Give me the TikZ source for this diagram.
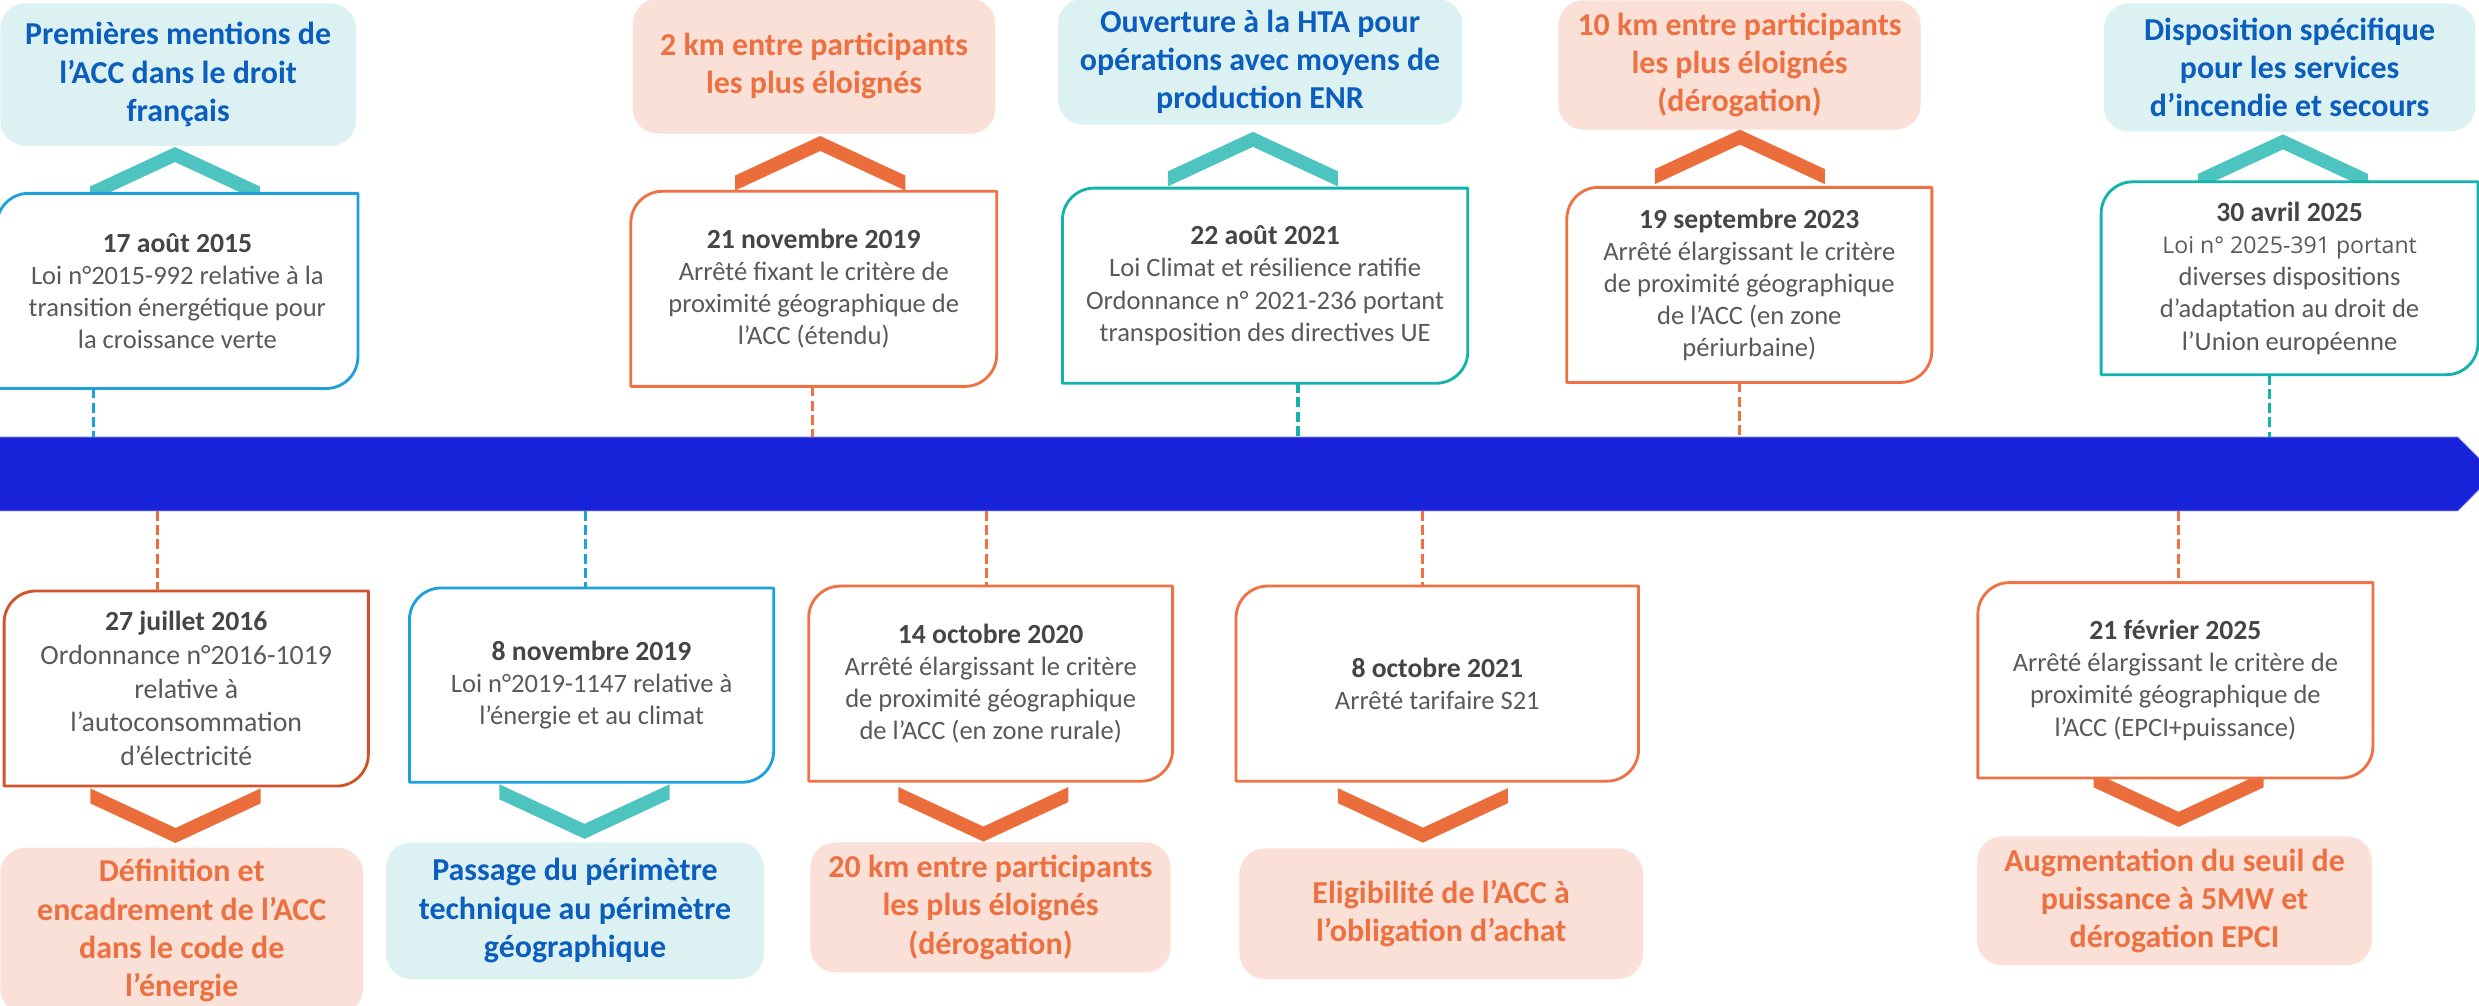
\documentclass[tikz,border=0pt]{standalone}
\usepackage{fontspec}
\setmainfont{Carlito}
\newfontfamily\segoefam[Ligatures=TeXOff]{Open Sans}
\definecolor{barblue}{HTML}{1722D9}
\definecolor{baredge}{HTML}{9FA4EE}
\definecolor{cyanfill}{HTML}{DBF1F2}
\definecolor{salmonfill}{HTML}{FBE0D7}
\definecolor{txtblue}{HTML}{0B5EBE}
\definecolor{txtorange}{HTML}{ED7040}
\definecolor{chevteal}{HTML}{4DC4C0}
\definecolor{chevorange}{HTML}{EC6D3C}
\definecolor{bdblue}{HTML}{1DA1DE}
\definecolor{bdteal}{HTML}{12B3AB}
\definecolor{bdorange}{HTML}{EE7244}
\definecolor{bddark}{HTML}{D0542A}
\definecolor{bodygray}{HTML}{595959}
\definecolor{headgray}{HTML}{454545}
\newcommand{\dhead}[1]{\textcolor{headgray}{\bfseries\fontsize{17.5}{20.3}\selectfont #1}}
\newcommand{\dshape}[2]{\draw[line width=1.8pt, draw=#2, line join=round] ([yshift=-20pt]#1.north west) .. controls ([yshift=-9pt]#1.north west) and ([xshift=9pt]#1.north west) .. ([xshift=20pt]#1.north west) -- (#1.north east) -- ([yshift=20pt]#1.south east) .. controls ([yshift=9pt]#1.south east) and ([xshift=-9pt]#1.south east) .. ([xshift=-20pt]#1.south east) -- (#1.south west) -- cycle;}
\newcommand{\chevup}[3]{\fill[#3] ({#1-53.8},{#2+25}) -- (#1,#2) -- ({#1+53.8},{#2+25}) -- ({#1+53.8},{#2+34.5}) -- (#1,{#2+9.5}) -- ({#1-53.8},{#2+34.5}) -- cycle;}
\newcommand{\chevdown}[3]{\fill[#3] ({#1-53.8},{#2-25}) -- (#1,#2) -- ({#1+53.8},{#2-25}) -- ({#1+53.8},{#2-34.5}) -- (#1,{#2-9.5}) -- ({#1-53.8},{#2-34.5}) -- cycle;}
\tikzset{
  summ/.style={anchor=north west, inner sep=0pt, rounded corners=16pt, align=center, font=\bfseries\fontsize{20.2}{24.2}\selectfont},
  sumc/.style={summ, fill=cyanfill, text=txtblue},
  sumo/.style={summ, fill=salmonfill, text=txtorange},
  dbox/.style={anchor=north west, inner sep=0pt, fill=white, align=center, text=bodygray, font=\fontsize{16.8}{20.3}\selectfont},
  conn/.style={line width=2pt, dash pattern=on 6.3pt off 2.7pt},
}
\begin{document}
\begin{tikzpicture}[x=1pt,y=-1pt]
\useasboundingbox (0,0) rectangle (1568,636);
\clip (0,0) rectangle (1568,636);
% timeline bar
\fill[barblue, draw=baredge, line width=0.6pt] (-2,276.4) -- (1554.7,276.4) -- (1578,299.8) -- (1554.7,323.2) -- (-2,323.2) -- cycle;
\coordinate (bartop) at (0,276.4);
\coordinate (barbot) at (0,323.2);
% chevrons
\chevup{110.7}{93}{chevteal}
\chevup{518.8}{86}{chevorange}
\chevup{792.5}{83.4}{chevteal}
\chevup{1100.5}{82}{chevorange}
\chevup{1444}{85}{chevteal}
\chevdown{111}{533.2}{chevorange}
\chevdown{369.7}{530.6}{chevteal}
\chevdown{622}{532.3}{chevorange}
\chevdown{900}{533}{chevorange}
\chevdown{1378}{523}{chevorange}
% top summaries
\node[sumc, minimum width=225pt, minimum height=90pt] (s1) at (0,2) {Premières mentions de\\l’ACC dans le droit\\français};
\node[sumo, minimum width=229.4pt, minimum height=85.3pt] (s2) at (400,-1) {2 km entre participants\\les plus éloignés};
\node[sumc, minimum width=255.6pt, minimum height=79.7pt] (s3) at (669,-1) {Ouverture à la HTA pour\\opérations avec moyens de\\production ENR};
\node[sumo, minimum width=229.2pt, minimum height=81.8pt] (s4) at (985.5,0) {10 km entre participants\\les plus éloignés\\(dérogation)};
\node[sumc, minimum width=235pt, minimum height=81pt] (s5) at (1330.5,2) {Disposition spécifique\\pour les services\\d’incendie et secours};
% top date boxes
\node[dbox, minimum width=228pt, minimum height=123pt] (t1) at (-2,122.3) {\dhead{17 août 2015}\\Loi n°2015-992 relative à la\\transition énergétique pour\\la croissance verte};
\node[dbox, minimum width=231pt, minimum height=123pt] (t2) at (399,121) {\dhead{21 novembre 2019}\\Arrêté fixant le critère de\\proximité géographique de\\l’ACC (étendu)};
\node[dbox, minimum width=256pt, minimum height=123pt] (t3) at (672,119) {\dhead{22 août 2021}\\Loi Climat et résilience ratifie\\Ordonnance n° 2021-236 portant\\transposition des directives UE};
\node[dbox, minimum width=230.5pt, minimum height=123pt] (t4) at (991,118.5) {\dhead{19 septembre 2023}\\Arrêté élargissant le critère\\de proximité géographique\\de l’ACC (en zone\\périurbaine)};
\node[dbox, minimum width=238pt, minimum height=121.6pt] (t5) at (1329,115) {\dhead{30 avril 2025}\\\segoefam\fontsize{14.6}{20}\selectfont Loi n° 2025-391 portant\\diverses dispositions\\d'adaptation au droit de\\l'Union européenne};
\dshape{t1}{bdblue}
\dshape{t2}{bdorange}
\dshape{t3}{bdteal}
\dshape{t4}{bdorange}
\dshape{t5}{bdteal}
% bottom date boxes
\node[dbox, minimum width=230pt, minimum height=123pt, font=\fontsize{17.6}{21.3}\selectfont] (d1) at (2.6,373.8) {\dhead{27 juillet 2016}\\Ordonnance n°2016-1019\\relative à\\l’autoconsommation\\d’électricité};
\node[dbox, minimum width=230pt, minimum height=122.5pt] (d2) at (259,371.9) {\dhead{8 novembre 2019}\\Loi n°2019-1147 relative à\\l’énergie et au climat};
\node[dbox, minimum width=229.8pt, minimum height=123pt] (d3) at (511.5,370.7) {\dhead{14 octobre 2020}\\Arrêté élargissant le critère\\de proximité géographique\\de l’ACC (en zone rurale)};
\node[dbox, minimum width=254.2pt, minimum height=123pt] (d4) at (781.8,370.7) {\dhead{8 octobre 2021}\\Arrêté tarifaire S21};
\node[dbox, minimum width=249.5pt, minimum height=123.2pt] (d5) at (1251,368.5) {\dhead{21 février 2025}\\Arrêté élargissant le critère de\\proximité géographique de\\l’ACC (EPCI+puissance)};
\dshape{d1}{bddark}
\dshape{d2}{bdblue}
\dshape{d3}{bdorange}
\dshape{d4}{bdorange}
\dshape{d5}{bdorange}
% bottom summaries
\node[sumo, minimum width=229.5pt, minimum height=105pt] (b1) at (0,536) {Définition et\\encadrement de l’ACC\\dans le code de\\l’énergie};
\node[sumc, minimum width=239pt, minimum height=86.4pt] (b2) at (244,532.6) {Passage du périmètre\\technique au périmètre\\géographique};
\node[sumo, minimum width=228pt, minimum height=82.2pt] (b3) at (512.3,532.6) {20 km entre participants\\les plus éloignés\\(dérogation)};
\node[sumo, minimum width=255.3pt, minimum height=82.6pt] (b4) at (783.7,536.4) {Eligibilité de l’ACC à\\l’obligation d’achat};
\node[sumo, minimum width=249.8pt, minimum height=81.6pt] (b5) at (1250.3,528.8) {Augmentation du seuil de\\puissance à 5MW et\\dérogation EPCI};
% dashed connectors
\coordinate (xa) at (59,0);
\coordinate (xb) at (514,0);
\coordinate (xc) at (821,0);
\coordinate (xd) at (1100.5,0);
\coordinate (xe) at (1435.5,0);
\coordinate (xf) at (99.4,0);
\coordinate (xg) at (370.5,0);
\coordinate (xh) at (624.1,0);
\coordinate (xi) at (900,0);
\coordinate (xj) at (1378,0);
\draw[conn, bdblue] (t1.south -| xa) -- (bartop -| xa);
\draw[conn, bdorange] (t2.south -| xb) -- (bartop -| xb);
\draw[conn, bdteal] (t3.south -| xc) -- (bartop -| xc);
\draw[conn, bdorange] (t4.south -| xd) -- (bartop -| xd);
\draw[conn, bdteal] (t5.south -| xe) -- (bartop -| xe);
\draw[conn, chevorange] (barbot -| xf) -- (d1.north -| xf);
\draw[conn, bdblue] (barbot -| xg) -- (d2.north -| xg);
\draw[conn, bdorange] (barbot -| xh) -- (d3.north -| xh);
\draw[conn, bdorange] (barbot -| xi) -- (d4.north -| xi);
\draw[conn, bdorange] (barbot -| xj) -- (d5.north -| xj);
\end{tikzpicture}
\end{document}
